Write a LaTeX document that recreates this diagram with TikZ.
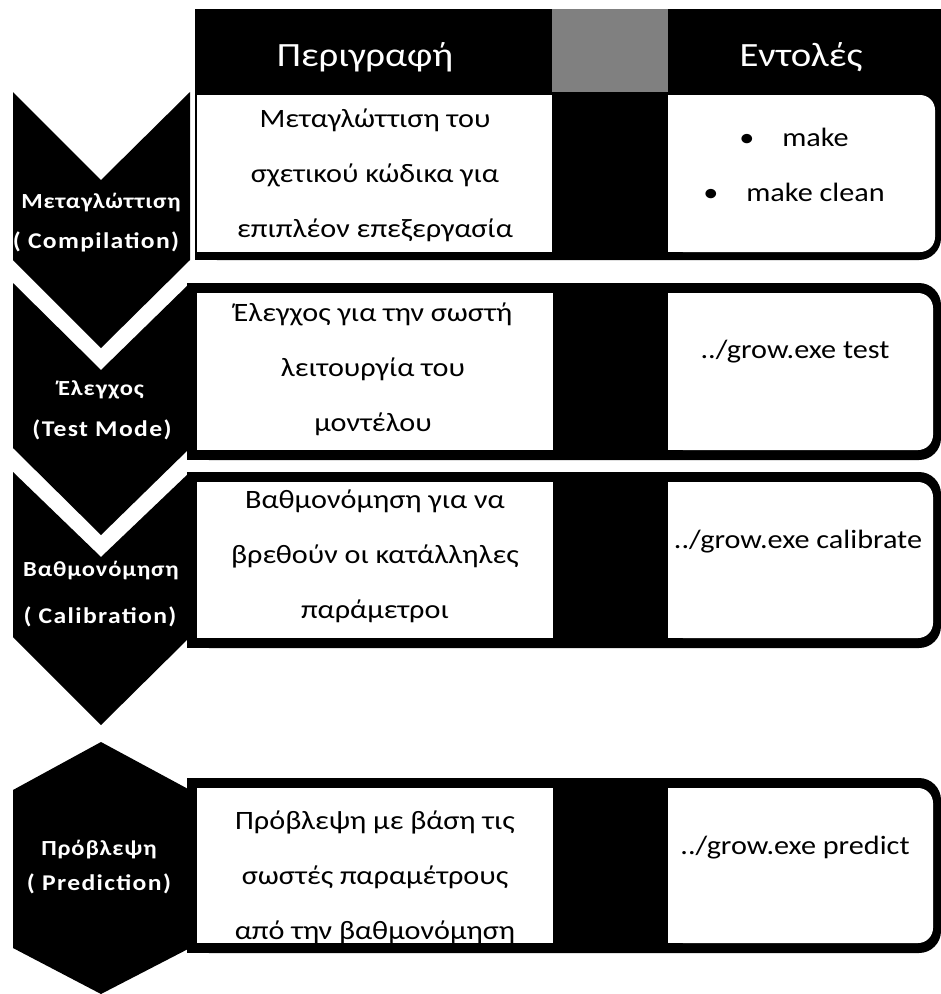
\documentclass[tikz,border=0pt]{standalone}
\usepackage{fontspec}
\setmainfont{Carlito}[FakeStretch=1.14]
\newfontfamily\lblfont{Carlito}[FakeStretch=1.14, LetterSpace=4]
\newfontfamily\lbllatfont{Carlito}[FakeStretch=1.14, LetterSpace=6]
\definecolor{hdrgray}{RGB}{128,128,128}
\begin{document}
\begin{tikzpicture}[x=1pt,y=-1pt,
  body/.style={font=\fontsize{26.5}{55}\selectfont, align=center, inner sep=0pt, text=black},
  cmd/.style={font=\fontsize{26.5}{55}\selectfont, align=center, inner sep=0pt, text=black},
  lbl/.style={font=\lblfont\bfseries\fontsize{21.5}{24}\selectfont, text=white, inner sep=0pt},
  lbllat/.style={font=\lbllatfont\bfseries\fontsize{22.5}{24}\selectfont, text=white, inner sep=0pt},
  hdr/.style={font=\fontsize{34}{40}\selectfont, text=white, inner sep=0pt}]
\useasboundingbox (0,0) rectangle (941,994);
\fill[white] (0,0) rectangle (941,994);
% header + row 1
\fill[rounded corners=22pt] (195,9) rectangle (941,260);
\fill (195,9) rectangle (941,120);
\fill (195,9) rectangle (300,260);
\fill[hdrgray] (552,9) rectangle (668,92);
\fill[white] (197,95) rectangle (552,252);
\fill[white, rounded corners=15pt] (668,95) rectangle (935,252);
\fill[white] (668,95) rectangle (700,252);
% rows 2-4
\foreach \t/\b in {283/460, 472/648, 778/953} {
  \fill[rounded corners=22pt] (187,\t) rectangle (941,\b);
  \fill (187,\t) rectangle (300,\b);
  \fill[white] (197,\t+10) rectangle (553,\b-10);
  \fill[white, rounded corners=15pt] (668,\t+10) rectangle (933,\b-10);
  \fill[white] (668,\t+10) rectangle (700,\b-10);
}
% chevrons
\fill (13,92) -- (101,180) -- (190,92) -- (190,260) -- (101,348) -- (13,260) -- cycle;
\fill (13,283) -- (101,370) -- (190,283) -- (190,448) -- (101,535) -- (13,448) -- cycle;
\fill (13,472) -- (101,557) -- (190,472) -- (190,637) -- (101,725) -- (13,637) -- cycle;
\fill (101,742) -- (190,790) -- (190,948) -- (101,994) -- (13,948) -- (13,790) -- cycle;
% header text
\node[hdr] (h1) at (365,57) {Περιγραφή};
\node[hdr] (h2) at (801,57) {Εντολές};
% descriptions
\node[body] (d1) at (375,175) {Μεταγλώττιση του\\σχετικού κώδικα για\\επιπλέον επεξεργασία};
\node[body] (d2) at (373,369) {Έλεγχος για την σωστή\\λειτουργία του\\μοντέλου};
\node[body] (d3) at (375,556) {Βαθμονόμηση για να\\βρεθούν οι κατάλληλες\\παράμετροι};
\node[body] (d4) at (375,877) {Πρόβλεψη με βάση τις\\σωστές παραμέτρους\\από την βαθμονόμηση};
% commands
\node[cmd] (k1) at (794,165) {\textbullet\hspace{28pt}make\\\textbullet\hspace{28pt}make clean};
\node[cmd] (k2) at (795,352) {../grow.exe test};
\node[cmd] (k3) at (798,542) {../grow.exe calibrate};
\node[cmd] (k4) at (795,848) {../grow.exe predict};
% labels
\node[lbl] (l1a) at (101,203) {Μεταγλώττιση};
\node[lbllat] (l1b) at (96,242) {( Compilation)};
\node[lbl] (l2a) at (101,390) {Έλεγχος};
\node[lbllat] (l2b) at (102,430) {(Test Mode)};
\node[lbl] (l3a) at (101,571) {Βαθμονόμηση};
\node[lbllat] (l3b) at (100,617) {( Calibration)};
\node[lbl] (l4a) at (99,850) {Πρόβλεψη};
\node[lbllat] (l4b) at (99,884) {( Prediction)};
\end{tikzpicture}
\end{document}
